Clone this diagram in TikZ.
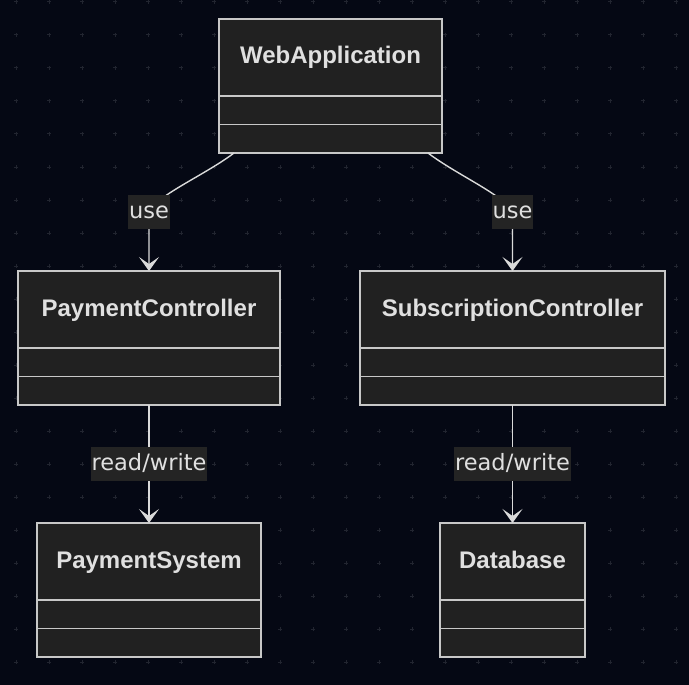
\documentclass[tikz,border=0pt]{standalone}
\usepackage{fontspec}
\setmainfont{Liberation Sans}
\newfontfamily\labelfont{DejaVu Sans}
\usetikzlibrary{positioning,arrows.meta}
\definecolor{bgcol}{RGB}{5,8,20}
\definecolor{dotcol}{RGB}{34,37,48}
\definecolor{boxfill}{RGB}{33,33,33}
\definecolor{boxline}{RGB}{200,200,200}
\definecolor{txtcol}{RGB}{224,224,224}
\definecolor{linecol}{RGB}{218,218,218}
\definecolor{lblfill}{RGB}{36,36,36}
\tikzset{class style/.style={
		draw=boxline,
		line width=1.3pt,
		fill=boxfill,
		text=txtcol,
		rectangle,
		minimum width=#1,
		minimum height=77pt,
		text height=18pt,
		text depth=5pt,
		inner sep=0pt,
		outer sep=0pt,
		font=\bfseries\fontsize{24}{28}\selectfont,
	},
	part style/.style={
		draw=boxline,
		line width=1.3pt,
		fill=boxfill,
		rectangle,
		minimum width=#1,
		minimum height=28.5pt,
		inner sep=0pt,
		outer sep=0pt,
	},
	label style/.style={
		fill=lblfill,
		text=txtcol,
		inner xsep=1pt,
		inner ysep=0pt,
		text height=17pt,
		text depth=5pt,
		minimum height=34pt,
		font=\labelfont\fontsize{22.5}{26}\selectfont,
	},
	edge style/.style={
		draw=linecol,
		line width=1.4pt,
		-{Stealth[length=14pt,width=20pt,inset=7pt]},
	},
	grid mark/.style={
		draw=dotcol,
		line width=1pt,
	}
}
\begin{document}
\begin{tikzpicture}[x=1pt,y=-1pt]
	\fill[bgcol] (0,0) rectangle (689,685);
	\useasboundingbox (0,0) rectangle (689,685);
	\foreach \i in {0,...,20}
	\foreach \j in {0,...,20}
	\draw[grid mark] ({16+33*\i-2},{2+33*\j}) -- ++(4,0) ({16+33*\i},{2+33*\j-2}) -- ++(0,4);
	
	\node[class style=223pt] (WebApp) at (330.5,57.5) {WebApplication};
	\node[part style=223pt, below=0pt of WebApp] (WebApp2) {};
	\node[part style=223pt, below=0pt of WebApp2] (WebApp3) {};
	
	\node[class style=262pt] (PayCtrl) at (149,309.5) {PaymentController};
	\node[part style=262pt, below=0pt of PayCtrl] (PayCtrl2) {};
	\node[part style=262pt, below=0pt of PayCtrl2] (PayCtrl3) {};
	
	\node[class style=305pt] (SubCtrl) at (512.5,309.5) {SubscriptionController};
	\node[part style=305pt, below=0pt of SubCtrl] (SubCtrl2) {};
	\node[part style=305pt, below=0pt of SubCtrl2] (SubCtrl3) {};
	
	\node[class style=224pt] (PaySys) at (149,561.5) {PaymentSystem};
	\node[part style=224pt, below=0pt of PaySys] (PaySys2) {};
	\node[part style=224pt, below=0pt of PaySys2] (PaySys3) {};
	
	\node[class style=145pt] (Database) at (512.5,561.5) {Database};
	\node[part style=145pt, below=0pt of Database] (Database2) {};
	\node[part style=145pt, below=0pt of Database2] (Database3) {};
	
	\coordinate (UseL) at (149,212);
	\coordinate (UseR) at (512.5,212);
	
	\draw[edge style] ([xshift=15pt]WebApp3.south west) .. controls (205,175) and (157,195) .. (UseL)
	node[label style] (UseLbl1) {use} -- (PayCtrl.north);
	\draw[edge style] ([xshift=-14pt]WebApp3.south east) .. controls (457,175) and (504,195) .. (UseR)
	node[label style] (UseLbl2) {use} -- (SubCtrl.north);
	
	\draw[edge style] (PayCtrl3.south) -- node[label style] (RwLbl1) {read/write} (PaySys.north);
	\draw[edge style] (SubCtrl3.south) -- node[label style] (RwLbl2) {read/write} (Database.north);
\end{tikzpicture}
\end{document}
